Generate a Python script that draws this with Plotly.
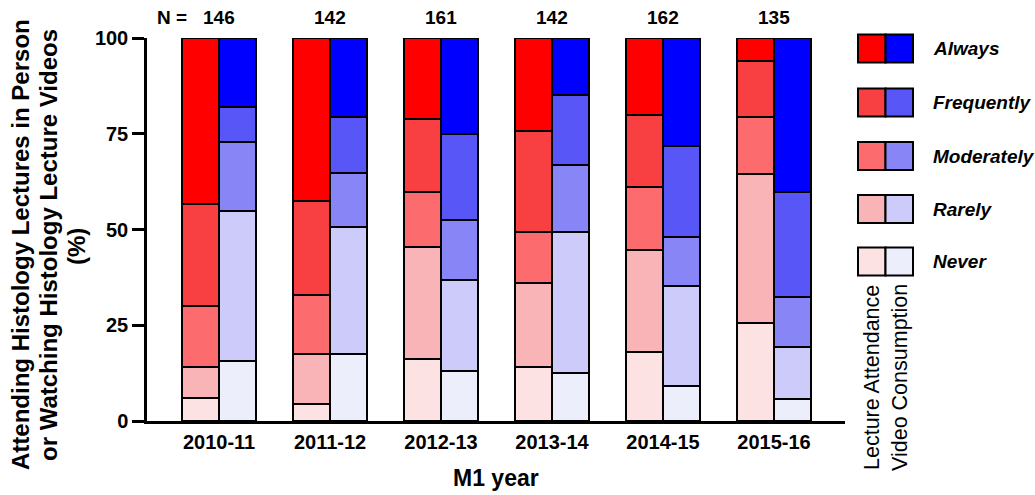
import plotly.graph_objects as go

years = ["2010-11", "2011-12", "2012-13", "2013-14", "2014-15", "2015-16"]
n_values = [146, 142, 161, 142, 162, 135]
levels = ["Never", "Rarely", "Moderately", "Frequently", "Always"]

# Lecture attendance (%), per level, per year
lecture_never = [6.0, 4.5, 16.1, 14.1, 18.0, 25.7]
lecture_rarely = [8.2, 12.9, 29.4, 22.0, 26.6, 38.7]
lecture_moderately = [15.9, 15.5, 14.2, 13.3, 16.6, 14.9]
lecture_frequently = [26.6, 24.5, 19.1, 26.4, 18.7, 14.8]
lecture_always = [43.3, 42.6, 21.2, 24.2, 20.1, 5.9]

# Video consumption (%), per level, per year
video_never = [15.6, 17.4, 13.0, 12.6, 9.2, 5.7]
video_rarely = [39.2, 33.3, 23.8, 36.7, 26.1, 13.5]
video_moderately = [18.1, 14.1, 15.7, 17.5, 12.8, 13.2]
video_frequently = [9.1, 14.7, 22.5, 18.4, 23.6, 27.3]
video_always = [18.0, 20.5, 25.0, 14.8, 28.3, 40.3]

red_colors = ["#FDE2E4", "#F8B4B6", "#FC6B6D", "#F83F41", "#FF0000"]
blue_colors = ["#EDEEFC", "#CCCBF9", "#8886F6", "#5856F7", "#0000FF"]

lecture = [lecture_never, lecture_rarely, lecture_moderately, lecture_frequently, lecture_always]
video = [video_never, video_rarely, video_moderately, video_frequently, video_always]

y_title_lines = ["Attending Histology Lectures in Person", "or Watching Histology Lecture Videos", "(%)"]
legend_labels = ["Always", "Frequently", "Moderately", "Rarely", "Never"]
group_labels = ["Lecture Attendance", "Video Consumption"]

FONT = "Liberation Sans, Arial, sans-serif"
BW = 0.33
xs = list(range(len(years)))

fig = go.Figure()
for lvl, vals, col in zip(levels, lecture, red_colors):
    fig.add_trace(go.Bar(x=[i - BW / 2 for i in xs], y=vals, width=BW, name="Lecture " + lvl,
                         marker=dict(color=col, line=dict(color="black", width=2)), showlegend=False))
for lvl, vals, col in zip(levels, video, blue_colors):
    fig.add_trace(go.Bar(x=[i + BW / 2 for i in xs], y=vals, width=BW, name="Video " + lvl,
                         marker=dict(color=col, line=dict(color="black", width=2)), showlegend=False))

W, H = 1035, 495
L, R, T, B = 147, 190, 38, 74
pw, ph = W - L - R, H - T - B


def px(x):
    return (x - L) / pw


def py(y):
    return (H - B - y) / ph


annotations = []
# N labels
for i, n in enumerate(n_values):
    annotations.append(dict(x=i, y=py(17), xref="x", yref="paper", text=f"<b>{n}</b>", showarrow=False,
                            font=dict(size=19, color="black", family=FONT), xanchor="center", yanchor="middle"))
annotations.append(dict(x=-0.27, y=py(17), xref="x", yref="paper", text="<b>N =</b>", showarrow=False,
                        font=dict(size=19, color="black", family=FONT), xanchor="right", yanchor="middle"))

# Y title (three lines)
for cx, line in zip([21, 49, 77], y_title_lines):
    annotations.append(dict(x=px(cx), y=py(245 if line != "(%)" else 247), xref="paper", yref="paper",
                            text=f"<b>{line}</b>", textangle=-90, showarrow=False,
                            font=dict(size=24, color="black", family=FONT),
                            xanchor="center", yanchor="middle"))
# X title
annotations.append(dict(x=px(496), y=py(478), xref="paper", yref="paper", text="<b>M1 year</b>", showarrow=False,
                        font=dict(size=23, color="black", family=FONT), xanchor="center", yanchor="middle"))

# Custom legend
shapes = []
row_centers = [48.5, 102.5, 156, 209, 261.5]
for k, (cy, lab) in enumerate(zip(row_centers, legend_labels)):
    idx = 4 - k
    y0, y1 = py(cy + 14), py(cy - 14)
    shapes.append(dict(type="rect", xref="paper", yref="paper", x0=px(858), x1=px(885.5), y0=y0, y1=y1,
                       fillcolor=red_colors[idx], line=dict(color="black", width=2)))
    shapes.append(dict(type="rect", xref="paper", yref="paper", x0=px(885.5), x1=px(913), y0=y0, y1=y1,
                       fillcolor=blue_colors[idx], line=dict(color="black", width=2)))
    annotations.append(dict(x=px(931), y=py(cy), xref="paper", yref="paper", text=f"<b><i>{lab}</i></b>",
                            showarrow=False, font=dict(size=19, color="black", family=FONT),
                            xanchor="left", yanchor="middle"))

for cx, lab in zip([872, 900], group_labels):
    annotations.append(dict(x=px(cx), y=py(378), xref="paper", yref="paper", text=lab,
                            textangle=-90, showarrow=False, font=dict(size=21.5, color="black", family=FONT),
                            xanchor="center", yanchor="middle"))

fig.update_layout(
    width=W, height=H, barmode="stack", bargap=0,
    margin=dict(l=L, r=R, t=T, b=B, pad=0),
    plot_bgcolor="white", paper_bgcolor="white",
    font=dict(family=FONT, color="black"),
    annotations=annotations, shapes=shapes,
    xaxis=dict(range=[-0.649, 5.64], tickvals=xs, ticktext=[f"<b>{y}</b>" for y in years],
               showline=True, linecolor="black", linewidth=2.5, ticks="", showgrid=False, zeroline=False,
               ticklabelstandoff=1,
               tickfont=dict(size=20, color="black", family=FONT), fixedrange=True),
    yaxis=dict(range=[0, 100], tickvals=[0, 25, 50, 75, 100],
               ticktext=["<b>0</b>", "<b>25</b>", "<b>50</b>", "<b>75</b>", "<b>100</b>"],
               showline=True, linecolor="black", linewidth=2.5, ticks="outside", ticklen=12, tickwidth=2.5,
               tickcolor="black", showgrid=False, zeroline=False,
               tickfont=dict(size=20, color="black", family=FONT), fixedrange=True),
)

fig.write_html("out.html")
